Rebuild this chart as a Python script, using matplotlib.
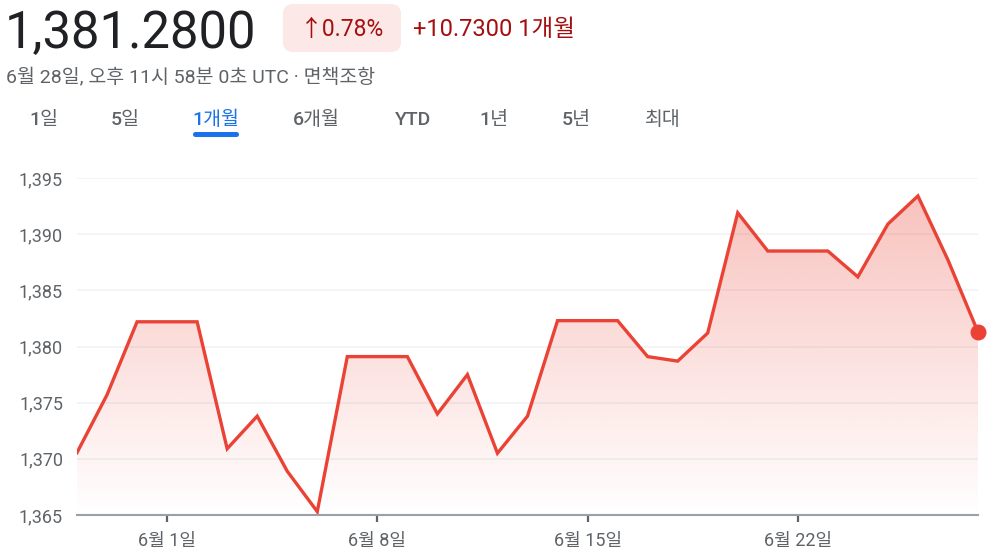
import numpy as np
import pandas as pd
import matplotlib
matplotlib.use("Agg")
import matplotlib.pyplot as plt
from matplotlib.patches import FancyBboxPatch

plt.rcParams['font.family'] = ['Roboto', 'Noto Sans CJK KR', 'DejaVu Sans']

# ---------------------------------------------------------
# data (USD/KRW, 1 month)
# ---------------------------------------------------------
dates = pd.date_range("2024-05-29", "2024-06-28", freq="D")
values = [1370.55, 1375.7, 1382.2, 1382.2, 1382.2, 1370.9, 1373.8, 1368.9,
          1365.3, 1379.1, 1379.1, 1379.1, 1374.0, 1377.5, 1370.5, 1373.8,
          1382.3, 1382.3, 1382.3, 1379.1, 1378.7, 1381.2, 1391.9, 1388.5,
          1388.5, 1388.5, 1386.2, 1390.9, 1393.4, 1387.7, 1381.28]

y_ticks = [1365, 1370, 1375, 1380, 1385, 1390, 1395]
y_labels = ["1,365", "1,370", "1,375", "1,380", "1,385", "1,390", "1,395"]
x_tick_dates = pd.to_datetime(["2024-06-01", "2024-06-08", "2024-06-15", "2024-06-22"])
x_labels = ["6월 1일", "6월 8일", "6월 15일", "6월 22일"]

price_txt = "1,381.2800"
pct_txt = "↑0.78%"
chg_txt = "+10.7300 1개월"
sub_txt = "6월 28일, 오후 11시 58분 0초 UTC · 면책조항"
tabs = ["1일", "5일", "1개월", "6개월", "YTD", "1년", "5년", "최대"]
tab_x = [44, 125, 216, 316, 413, 494, 576, 663]
active_tab = 2

RED = "#ea4335"
W, H = 997, 559

fig = plt.figure(figsize=(W / 100, H / 100), dpi=100)

# header layer in pixel coords
hdr = fig.add_axes([0, 0, 1, 1])
hdr.set_xlim(0, W)
hdr.set_ylim(H, 0)
hdr.axis("off")

hdr.text(5, 48, price_txt, fontsize=36.5, color="#202124", va="baseline", ha="left")
hdr.add_patch(FancyBboxPatch((283, 4), 118, 48, boxstyle="round,pad=0,rounding_size=10",
                             fc="#fce8e6", ec="none"))
hdr.text(342, 36, pct_txt, fontsize=16.5, color="#a50e0e", va="baseline", ha="center")
hdr.text(413, 36, chg_txt, fontsize=17, color="#a50e0e", va="baseline", ha="left")
hdr.text(6, 82, sub_txt, fontsize=14, color="#5f6368", va="baseline", ha="left")

for i, (t, x) in enumerate(zip(tabs, tab_x)):
    c = "#1a73e8" if i == active_tab else "#5f6368"
    hdr.text(x, 125, t, fontsize=14, color=c, va="baseline", ha="center", fontweight="medium")
hdr.add_patch(FancyBboxPatch((193, 132), 46, 5, boxstyle="round,pad=0,rounding_size=2.5",
                             fc="#1a73e8", ec="none"))

# ---------------------------------------------------------
# chart
# ---------------------------------------------------------
ax = fig.add_axes([77 / W, 1 - 515 / H, (978 - 77) / W, (515 - 178) / H])
ax.set_facecolor("none")
ax.set_xlim(dates[0], dates[-1])
ax.set_ylim(1365, 1395)

# gradient fill under the line
poly = ax.fill_between(dates, values, 1365, color="none")
grad = np.zeros((256, 1, 4))
grad[:, 0, 0] = 234 / 255
grad[:, 0, 1] = 67 / 255
grad[:, 0, 2] = 53 / 255
grad[:, 0, 3] = np.linspace(0.34, 0.0, 256)
x0, x1 = ax.get_xlim()
img = ax.imshow(grad, extent=[x0, x1, 1365, 1395], aspect="auto", origin="upper", zorder=1)
img.set_clip_path(poly.get_paths()[0], transform=ax.transData)

ax.plot(dates, values, color=RED, lw=2.4, zorder=3, solid_joinstyle="miter")
ax.plot(dates[-1], values[-1], "o", color=RED, ms=10.5, zorder=4, clip_on=False)

ax.set_yticks(y_ticks)
ax.set_yticklabels(y_labels)
ax.set_xticks(x_tick_dates)
ax.set_xticklabels(x_labels)

for yv in y_ticks[1:]:
    ax.axhline(yv, color="#f1f3f4", lw=1.3, zorder=0)

for s in ["top", "right", "left"]:
    ax.spines[s].set_visible(False)
ax.spines["bottom"].set_color("#9aa0a6")
ax.spines["bottom"].set_linewidth(1.5)
ax.spines["bottom"].set_zorder(5)

ax.tick_params(axis="y", length=0, pad=10, labelsize=13, labelcolor="#5f6368")
ax.tick_params(axis="x", length=5, width=1.6, color="#5f6368", pad=7,
               labelsize=13, labelcolor="#5f6368")

fig.savefig("out.png", dpi=100)
